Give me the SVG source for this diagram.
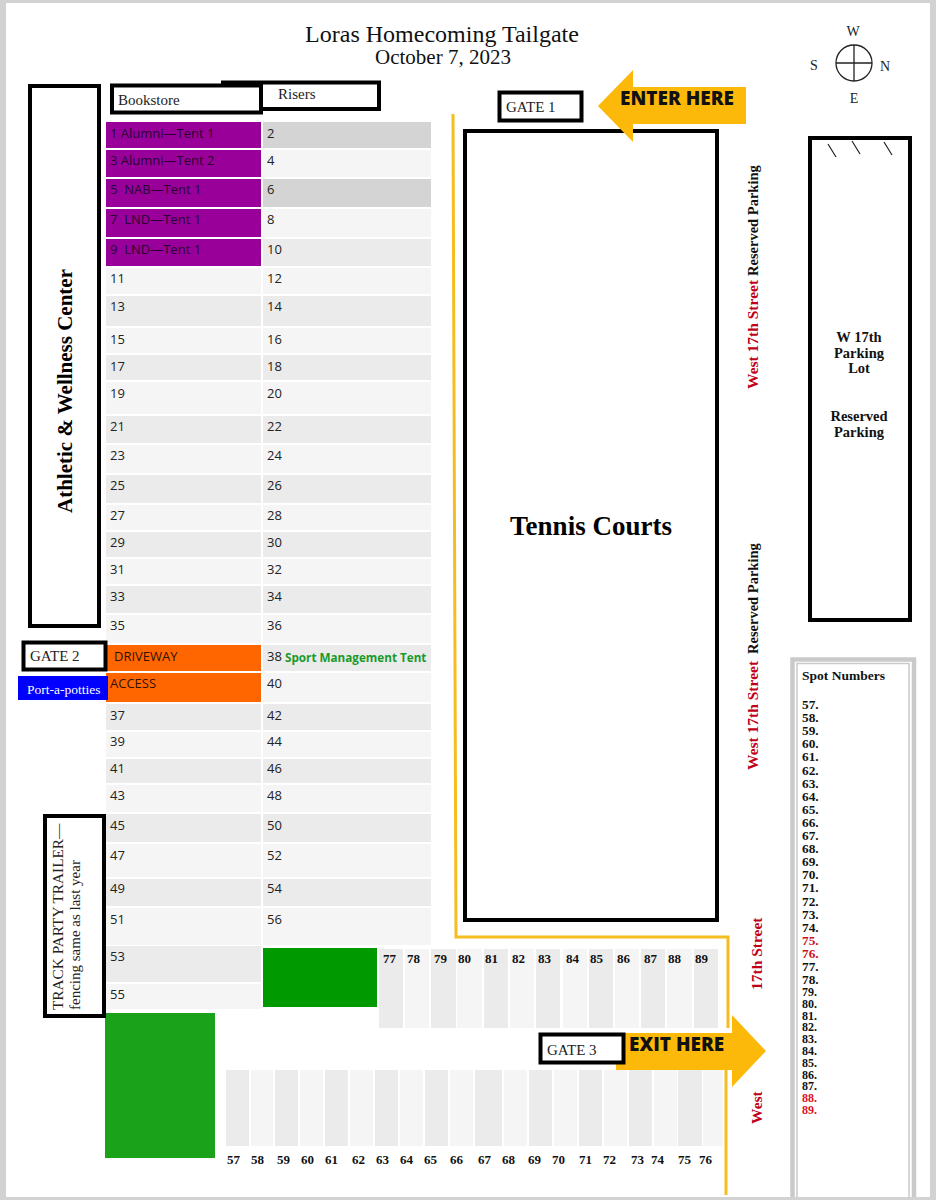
<svg xmlns="http://www.w3.org/2000/svg" width="936" height="1200" viewBox="0 0 936 1200">
<style>
.s{font-family:"Liberation Serif","Times New Roman",serif}
.o{font-family:"Open Sans","Liberation Sans",sans-serif;font-size:13px;fill:#222}
.p{fill:#2a0030}
.q{fill:#331100}
.b{font-weight:bold}
.box{fill:#fff;stroke:#000;stroke-width:4}
.d{fill:#ebebeb}.l{fill:#f5f5f5}.m{fill:#d4d4d4}.v{fill:#990099}.r{fill:#ff6600}
.n{font-family:"Liberation Serif",serif;font-size:13px;font-weight:bold;fill:#111}
.sp{font-family:"Liberation Serif",serif;font-size:13.300px;font-weight:bold;fill:#111}
.sq{font-family:"Liberation Serif",serif;font-size:12px;font-weight:bold;fill:#111}
.red{fill:#cc1122}
.st{font-family:"Liberation Serif",serif;font-size:14.500px;font-weight:bold;fill:#111}
.sr{font-size:15.500px;fill:#c00018}
.g{font-family:"Liberation Serif",serif;font-size:15px;fill:#222}
.ar{fill:#fdb90a}
.hd{font-family:"Open Sans","Liberation Sans",sans-serif;font-size:19px;font-weight:800;fill:#111}
</style>
<rect width="936" height="1200" fill="#d2d2d2"/>
<rect x="6" y="3" width="924" height="1194" fill="#fff"/>

<g id="title" class="s" text-anchor="middle" fill="#111">
<text x="442" y="42" font-size="24">Loras Homecoming Tailgate</text>
<text x="443" y="64" font-size="21">October 7, 2023</text>
</g>

<g id="compass">
<circle cx="854" cy="63" r="18" fill="none" stroke="#222" stroke-width="1.300"/>
<path d="M836 63H872M854 45V81" stroke="#222" stroke-width="1.300" fill="none"/>
<g class="s" text-anchor="middle" font-size="14" fill="#222">
<text x="853" y="36">W</text><text x="814" y="70">S</text><text x="885" y="71">N</text><text x="854" y="103">E</text>
</g>
</g>

<g id="grid-left">
<rect class="v" x="106" y="122" width="155" height="26"/><rect class="v" x="106" y="150" width="155" height="27"/><rect class="v" x="106" y="179" width="155" height="28"/><rect class="v" x="106" y="209" width="155" height="28"/><rect class="v" x="106" y="239" width="155" height="27"/>
<rect class="l" x="106" y="268" width="155" height="26"/><rect class="d" x="106" y="296" width="155" height="30"/><rect class="l" x="106" y="328" width="155" height="25"/><rect class="d" x="106" y="355" width="155" height="25"/><rect class="l" x="106" y="382" width="155" height="32"/><rect class="d" x="106" y="416" width="155" height="27"/><rect class="l" x="106" y="445" width="155" height="28"/><rect class="d" x="106" y="475" width="155" height="28"/><rect class="l" x="106" y="505" width="155" height="25"/><rect class="d" x="106" y="532" width="155" height="25"/><rect class="l" x="106" y="559" width="155" height="25"/><rect class="d" x="106" y="586" width="155" height="27"/><rect class="l" x="106" y="615" width="155" height="28"/>
<rect class="r" x="106" y="645" width="155" height="26"/><rect class="r" x="106" y="673" width="155" height="29"/>
<rect class="d" x="106" y="704" width="155" height="26"/><rect class="l" x="106" y="732" width="155" height="25"/><rect class="d" x="106" y="759" width="155" height="24"/><rect class="l" x="106" y="785" width="155" height="27"/><rect class="d" x="106" y="814" width="155" height="28"/><rect class="l" x="106" y="844" width="155" height="33"/><rect class="d" x="106" y="879" width="155" height="27"/><rect class="l" x="106" y="908" width="155" height="37"/><rect class="d" x="106" y="946" width="155" height="36"/><rect class="l" x="106" y="984" width="155" height="25"/>
</g>
<g id="grid-right">
<rect class="m" x="263" y="122" width="168" height="26"/><rect class="l" x="263" y="150" width="168" height="27"/><rect class="m" x="263" y="179" width="168" height="28"/><rect class="l" x="263" y="209" width="168" height="28"/><rect class="d" x="263" y="239" width="168" height="27"/>
<rect class="l" x="263" y="268" width="168" height="26"/><rect class="d" x="263" y="296" width="168" height="30"/><rect class="l" x="263" y="328" width="168" height="25"/><rect class="d" x="263" y="355" width="168" height="25"/><rect class="l" x="263" y="382" width="168" height="32"/><rect class="d" x="263" y="416" width="168" height="27"/><rect class="l" x="263" y="445" width="168" height="28"/><rect class="d" x="263" y="475" width="168" height="28"/><rect class="l" x="263" y="505" width="168" height="25"/><rect class="d" x="263" y="532" width="168" height="25"/><rect class="l" x="263" y="559" width="168" height="25"/><rect class="d" x="263" y="586" width="168" height="27"/><rect class="l" x="263" y="615" width="168" height="28"/>
<rect class="d" x="263" y="645" width="168" height="26"/><rect class="l" x="263" y="673" width="168" height="29"/>
<rect class="d" x="263" y="704" width="168" height="26"/><rect class="l" x="263" y="732" width="168" height="25"/><rect class="d" x="263" y="759" width="168" height="24"/><rect class="l" x="263" y="785" width="168" height="27"/><rect class="d" x="263" y="814" width="168" height="28"/><rect class="l" x="263" y="844" width="168" height="33"/><rect class="d" x="263" y="879" width="168" height="27"/><rect class="l" x="263" y="908" width="168" height="37"/>
</g>
<g id="grid-labels-left">
<text class="o p" x="110" y="138">1 Alumni—Tent 1</text><text class="o p" x="110" y="165">3 Alumni—Tent 2</text><text class="o p" x="110" y="194" xml:space="preserve">5  NAB—Tent 1</text><text class="o p" x="110" y="224" xml:space="preserve">7  LND—Tent 1</text><text class="o p" x="110" y="254" xml:space="preserve">9  LND—Tent 1</text>
<text class="o" x="110" y="283">11</text><text class="o" x="110" y="311">13</text><text class="o" x="110" y="344">15</text><text class="o" x="110" y="371">17</text><text class="o" x="110" y="398">19</text><text class="o" x="110" y="431">21</text><text class="o" x="110" y="460">23</text><text class="o" x="110" y="490">25</text><text class="o" x="110" y="520">27</text><text class="o" x="110" y="547">29</text><text class="o" x="110" y="574">31</text><text class="o" x="110" y="601">33</text><text class="o" x="110" y="630">35</text>
<text class="o q" x="114" y="661">DRIVEWAY</text><text class="o q" x="110" y="688">ACCESS</text>
<text class="o" x="110" y="720">37</text><text class="o" x="110" y="746">39</text><text class="o" x="110" y="773">41</text><text class="o" x="110" y="800">43</text><text class="o" x="110" y="830">45</text><text class="o" x="110" y="860">47</text><text class="o" x="110" y="893">49</text><text class="o" x="110" y="924">51</text><text class="o" x="110" y="961">53</text><text class="o" x="110" y="999">55</text>
</g>
<g id="grid-labels-right">
<text class="o" x="267" y="138">2</text><text class="o" x="267" y="165">4</text><text class="o" x="267" y="194">6</text><text class="o" x="267" y="224">8</text><text class="o" x="267" y="254">10</text><text class="o" x="267" y="283">12</text><text class="o" x="267" y="311">14</text><text class="o" x="267" y="344">16</text><text class="o" x="267" y="371">18</text><text class="o" x="267" y="398">20</text><text class="o" x="267" y="431">22</text><text class="o" x="267" y="460">24</text><text class="o" x="267" y="490">26</text><text class="o" x="267" y="520">28</text><text class="o" x="267" y="547">30</text><text class="o" x="267" y="574">32</text><text class="o" x="267" y="601">34</text><text class="o" x="267" y="630">36</text><text class="o" x="267" y="661">38</text><text class="o" x="267" y="688">40</text><text class="o" x="267" y="720">42</text><text class="o" x="267" y="746">44</text><text class="o" x="267" y="773">46</text><text class="o" x="267" y="800">48</text><text class="o" x="267" y="830">50</text><text class="o" x="267" y="860">52</text><text class="o" x="267" y="893">54</text><text class="o" x="267" y="924">56</text>
<text x="285" y="662" font-family="Open Sans,Liberation Sans,sans-serif" font-size="11.700" font-weight="bold" fill="#1a9a2a">Sport Management Tent</text>
</g>

<g id="slots-top">
<rect class="d" x="379" y="949" width="24" height="79"/><rect class="l" x="405" y="949" width="24" height="79"/><rect class="d" x="431" y="949" width="25" height="79"/><rect class="l" x="457" y="949" width="25" height="79"/><rect class="d" x="484" y="949" width="24" height="79"/><rect class="l" x="510" y="949" width="24" height="79"/><rect class="d" x="536" y="949" width="24" height="79"/><rect class="l" x="563" y="949" width="24" height="79"/><rect class="d" x="589" y="949" width="24" height="79"/><rect class="l" x="615" y="949" width="24" height="79"/><rect class="d" x="641" y="949" width="24" height="79"/><rect class="l" x="667" y="949" width="25" height="79"/><rect class="d" x="694" y="949" width="24" height="79"/>
<text class="n" x="383" y="963">77</text><text class="n" x="407" y="963">78</text><text class="n" x="434" y="963">79</text><text class="n" x="458" y="963">80</text><text class="n" x="485" y="963">81</text><text class="n" x="512" y="963">82</text><text class="n" x="538" y="963">83</text><text class="n" x="566" y="963">84</text><text class="n" x="590" y="963">85</text><text class="n" x="617" y="963">86</text><text class="n" x="644" y="963">87</text><text class="n" x="668" y="963">88</text><text class="n" x="695" y="963">89</text>
</g>
<g id="slots-bottom">
<rect class="d" x="226" y="1070" width="23" height="76"/><rect class="l" x="251" y="1070" width="22" height="76"/><rect class="d" x="275" y="1070" width="23" height="76"/><rect class="l" x="300" y="1070" width="23" height="76"/><rect class="d" x="325" y="1070" width="23" height="76"/><rect class="l" x="350" y="1070" width="23" height="76"/><rect class="d" x="375" y="1070" width="23" height="76"/><rect class="l" x="400" y="1070" width="23" height="76"/><rect class="d" x="425" y="1070" width="23" height="76"/><rect class="l" x="450" y="1070" width="23" height="76"/><rect class="d" x="475" y="1070" width="27" height="76"/><rect class="l" x="504" y="1070" width="23" height="76"/><rect class="d" x="529" y="1070" width="23" height="76"/><rect class="l" x="554" y="1070" width="23" height="76"/><rect class="d" x="579" y="1070" width="23" height="76"/><rect class="l" x="604" y="1070" width="23" height="76"/><rect class="d" x="629" y="1070" width="23" height="76"/><rect class="l" x="654" y="1070" width="23" height="76"/><rect class="d" x="678" y="1070" width="24" height="76"/><rect class="l" x="703" y="1070" width="20" height="76"/>
<text class="n" x="227" y="1164">57</text><text class="n" x="251" y="1164">58</text><text class="n" x="277" y="1164">59</text><text class="n" x="301" y="1164">60</text><text class="n" x="325" y="1164">61</text><text class="n" x="352" y="1164">62</text><text class="n" x="376" y="1164">63</text><text class="n" x="400" y="1164">64</text><text class="n" x="424" y="1164">65</text><text class="n" x="450" y="1164">66</text><text class="n" x="478" y="1164">67</text><text class="n" x="502" y="1164">68</text><text class="n" x="528" y="1164">69</text><text class="n" x="552" y="1164">70</text><text class="n" x="579" y="1164">71</text><text class="n" x="603" y="1164">72</text><text class="n" x="631" y="1164">73</text><text class="n" x="651" y="1164">74</text><text class="n" x="678" y="1164">75</text><text class="n" x="699" y="1164">76</text>
</g>
<g id="green-top"><rect x="263" y="948" width="114" height="59" fill="#009900"/></g>
<g id="green-left"><rect x="105" y="1013" width="110" height="145" fill="#1aa31a"/></g>

<g id="connectors" fill="none" stroke="#f5bd1f" stroke-width="3">
<path d="M453 114L456 937H728V1028"/>
<path d="M726 1070V1195"/>
</g>

<g id="athletic">
<rect class="box" x="30" y="86" width="69" height="540"/>
<text class="s b" transform="translate(72 513) rotate(-90)" font-size="21" fill="#000">Athletic &amp; Wellness Center</text>
</g>
<g id="risers">
<rect class="box" x="223" y="82.500" width="156" height="26.500"/>
<text class="g" x="278" y="99">Risers</text>
</g>
<g id="bookstore">
<rect class="box" x="112" y="85.500" width="149" height="27"/>
<text class="g" x="118" y="105">Bookstore</text>
</g>
<g id="gate1">
<rect class="box" x="499.500" y="92.500" width="82" height="28"/>
<text class="g" x="506" y="112">GATE 1</text>
</g>
<g id="tennis">
<rect x="465" y="131" width="252" height="789" fill="#fff" stroke="#000" stroke-width="4"/>
<text class="s b" x="591" y="535" font-size="27" text-anchor="middle" fill="#000">Tennis Courts</text>
</g>
<g id="enter">
<path class="ar" d="M598 106L633 70V87H746V124H633V142Z"/>
<text class="hd" x="620" y="105">ENTER HERE</text>
</g>
<g id="gate2">
<rect class="box" x="23.500" y="642.500" width="82" height="27"/>
<text class="g" x="30" y="661">GATE 2</text>
</g>
<g id="potties">
<rect x="18" y="676" width="90" height="24" fill="#0000ff"/>
<text class="s" x="27" y="694" font-size="13.500" fill="#fff">Port-a-potties</text>
</g>
<g id="track">
<rect class="box" x="45" y="816" width="59" height="200"/>
<text class="s" transform="translate(63 1010) rotate(-90)" font-size="15.300" fill="#222">TRACK PARTY TRAILER—</text>
<text class="s" transform="translate(80 1010) rotate(-90)" font-size="15" fill="#222">fencing same as last year</text>
</g>
<g id="exit">
<path class="ar" d="M616 1033H732V1015L766 1051L732 1087V1070H616Z"/>
</g>
<g id="gate3">
<rect class="box" x="540.500" y="1034.500" width="83" height="28"/>
<text class="g" x="547" y="1055">GATE 3</text>
<text class="hd" x="629" y="1051">EXIT HERE</text>
</g>

<g id="street-labels" class="st">
<text class="sr" transform="translate(758 389) rotate(-90)">West 17th Street</text>
<text transform="translate(758 276) rotate(-90)">Reserved Parking</text>
<text class="sr" transform="translate(758 770) rotate(-90)">West 17th Street</text>
<text transform="translate(758 654) rotate(-90)">Reserved Parking</text>
<text class="sr" transform="translate(762 990) rotate(-90)">17th Street</text>
<text class="sr" transform="translate(762 1124) rotate(-90)">West</text>
</g>

<g id="parking-lot">
<rect class="box" x="810" y="138" width="100" height="482"/>
<path d="M828 144L836 157M852 141L860 154M884 142L892 155" stroke="#222" stroke-width="1.200"/>
<g class="s b" font-size="14.500" text-anchor="middle" fill="#111">
<text x="859" y="342">W 17th</text><text x="859" y="358">Parking</text><text x="859" y="373">Lot</text>
<text x="859" y="421">Reserved</text><text x="859" y="437">Parking</text>
</g>
</g>

<g id="spot-numbers">
<path d="M792.500 1197V659.500H914V1197" fill="none" stroke="#cacaca" stroke-width="4.500"/>
<path d="M797 1197V663.500H909V1197" fill="none" stroke="#cacaca" stroke-width="1.500"/>
<text class="sq" x="802" y="680" style="font-size:13.500px">Spot Numbers</text>
<text class="sp" x="802" y="709">57.</text><text class="sp" x="802" y="722.100">58.</text><text class="sp" x="802" y="735.200">59.</text><text class="sp" x="802" y="748.300">60.</text><text class="sp" x="802" y="761.400">61.</text><text class="sp" x="802" y="774.500">62.</text><text class="sp" x="802" y="787.600">63.</text><text class="sp" x="802" y="800.700">64.</text><text class="sp" x="802" y="813.800">65.</text><text class="sp" x="802" y="826.900">66.</text><text class="sp" x="802" y="840">67.</text><text class="sp" x="802" y="853.100">68.</text><text class="sp" x="802" y="866.200">69.</text><text class="sp" x="802" y="879.300">70.</text><text class="sp" x="802" y="892.400">71.</text><text class="sp" x="802" y="905.500">72.</text><text class="sp" x="802" y="918.600">73.</text><text class="sp" x="802" y="931.700">74.</text><text class="sp red" x="802" y="944.800" style="fill:#cc1122">75.</text><text class="sp red" x="802" y="957.900" style="fill:#cc1122">76.</text><text class="sp" x="802" y="971">77.</text><text class="sp" x="802" y="984.100">78.</text>
<text class="sq" x="802" y="996">79.</text><text class="sq" x="802" y="1007.800">80.</text><text class="sq" x="802" y="1019.600">81.</text><text class="sq" x="802" y="1031.400">82.</text><text class="sq" x="802" y="1043.200">83.</text><text class="sq" x="802" y="1055">84.</text><text class="sq" x="802" y="1066.800">85.</text><text class="sq" x="802" y="1078.600">86.</text><text class="sq" x="802" y="1090.400">87.</text><text class="sq red" x="802" y="1102.200" style="fill:#e01020">88.</text><text class="sq red" x="802" y="1114" style="fill:#e01020">89.</text>
</g>
</svg>
